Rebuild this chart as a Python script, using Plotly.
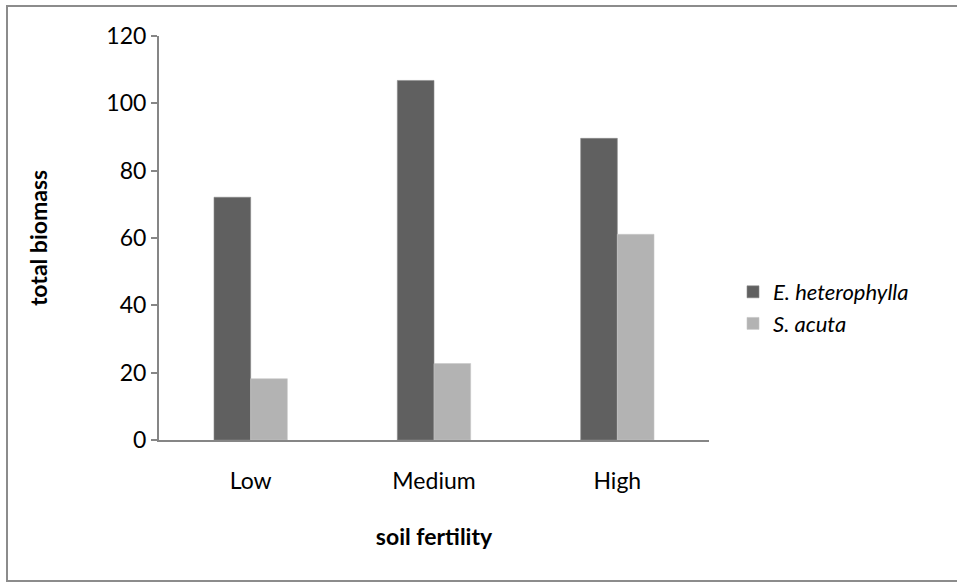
import plotly.graph_objects as go

categories = ["Low", "Medium", "High"]
e_heterophylla = [72.1, 106.8, 89.6]
s_acuta = [18.2, 22.7, 61.1]
y_ticks = [0, 20, 40, 60, 80, 100, 120]

FONT = "Lato, 'Open Sans', sans-serif"
FS = 23
W, H = 957, 582
ML, MR, MT, MB = 159, 248, 36, 142
PW, PH = W - ML - MR, H - MT - MB

def px_x(x):
    return (x - ML) / PW

def px_y(y):
    return (H - MB - y) / PH

fig = go.Figure()
fig.add_trace(go.Bar(x=categories, y=e_heterophylla, name="<i>E. heterophylla</i>",
                     marker=dict(color="#606060", line=dict(color="#8a8a8a", width=0.6))))
fig.add_trace(go.Bar(x=categories, y=s_acuta, name="<i>S. acuta</i>",
                     marker=dict(color="#b3b3b3", line=dict(color="#c8c8c8", width=0.6))))

fig.update_layout(
    width=W, height=H,
    margin=dict(l=ML, r=MR, t=MT, b=MB, autoexpand=False),
    paper_bgcolor="white", plot_bgcolor="white",
    barmode="group", bargap=0.6, bargroupgap=0,
    font=dict(family=FONT, size=FS, color="#000000"),
    showlegend=True,
    legend=dict(x=px_x(733), y=px_y(308), xanchor="left", yanchor="middle",
                font=dict(family=FONT, size=22), bgcolor="rgba(0,0,0,0)",
                tracegroupgap=0),
    xaxis=dict(
        showline=True, linecolor="#868686", linewidth=2,
        ticks="", showgrid=False, zeroline=False,
        tickfont=dict(size=FS), ticklabelstandoff=19,
        title=dict(text="<b>soil fertility</b>", font=dict(size=FS), standoff=36),
    ),
    yaxis=dict(
        range=[0, 120], tickvals=y_ticks, ticktext=[str(v) for v in y_ticks],
        showline=True, linecolor="#868686", linewidth=2,
        ticks="outside", ticklen=6, tickcolor="#868686", tickwidth=1.5,
        showgrid=False, zeroline=False,
        tickfont=dict(size=FS), ticklabelstandoff=0,
        title=dict(text="<b>total biomass</b>", font=dict(size=FS), standoff=52),
    ),
    shapes=[dict(type="rect", xref="paper", yref="paper",
                 x0=px_x(7), x1=px_x(970), y0=px_y(581), y1=px_y(6),
                 line=dict(color="#8c8c8c", width=2), fillcolor="rgba(0,0,0,0)",
                 layer="below")],
)

fig.write_html("out.html")
